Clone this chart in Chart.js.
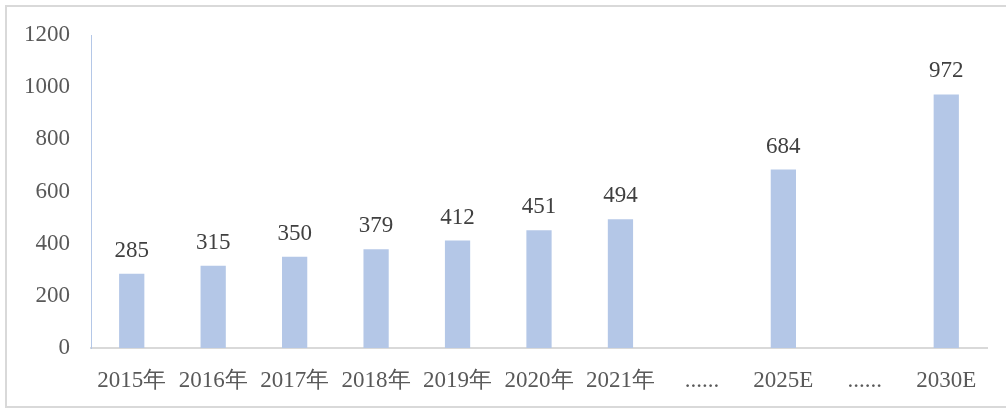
<!DOCTYPE html>
<html>
<head>
<meta charset="utf-8">
<script src="https://cdn.jsdelivr.net/npm/chart.js@4"></script>
<style>
    body { margin: 0; background: #fff; }
    #wrap { width: 1006px; height: 412px; position: relative; }
</style>
</head>
<body>
<div id="wrap"><canvas id="marketChart"></canvas></div>
<script>
// categories and values
const years = ['2015年', '2016年', '2017年', '2018年', '2019年', '2020年', '2021年', '......', '2025E', '......', '2030E'];
const sizes = [285, 315, 350, 379, 412, 451, 494, null, 684, null, 972];
const yTicks = [0, 200, 400, 600, 800, 1000, 1200];

const serif = "'Liberation Serif', 'Times New Roman', serif";

// frame around the whole picture
const framePlugin = {
    id: 'frame',
    beforeDraw: (chart) => {
        const ctx = chart.ctx;
        ctx.save();
        ctx.fillStyle = '#fff';
        ctx.fillRect(0, 0, chart.width, chart.height);
        ctx.strokeStyle = '#d9d9d9';
        ctx.lineWidth = 2;
        ctx.strokeRect(6, 6, chart.width + 10, chart.height - 11);
        ctx.restore();
    },
};

// value labels above the bars
const barLabels = {
    id: 'barLabels',
    afterDatasetsDraw: (chart) => {
        const ctx = chart.ctx;
        const meta = chart.getDatasetMeta(0);
        ctx.save();
        ctx.font = '23px ' + serif;
        ctx.fillStyle = '#404040';
        ctx.textAlign = 'center';
        ctx.textBaseline = 'alphabetic';
        meta.data.forEach((bar, i) => {
            const v = sizes[i];
            if (v === null) return;
            ctx.fillText(String(v), bar.x, bar.y - 17);
        });
        ctx.restore();
    },
};

new Chart(document.getElementById('marketChart'), {
    type: 'bar',
    data: {
        labels: years,
        datasets: [{
            data: sizes,
            backgroundColor: '#b4c7e7',
            barPercentage: 0.31,
            categoryPercentage: 1,
        }],
    },
    options: {
        responsive: true,
        maintainAspectRatio: false,
        animation: false,
        layout: {
            padding: { left: 0, right: 19, top: 35, bottom: 0 },
        },
        plugins: {
            legend: { display: false },
            tooltip: { enabled: false },
        },
        scales: {
            x: {
                grid: { display: false, drawTicks: false },
                border: { color: '#d9d9d9', width: 2 },
                ticks: {
                    font: { family: serif, size: 23 },
                    color: '#595959',
                    padding: 19,
                    maxRotation: 0,
                    autoSkip: false,
                },
                afterFit: (scale) => { scale.height = 64; },
            },
            y: {
                min: 0,
                max: 1200,
                afterBuildTicks: (scale) => {
                    scale.ticks = yTicks.map(v => ({ value: v }));
                },
                grid: { display: false, drawTicks: false },
                border: { color: '#b4c7e7', width: 1 },
                ticks: {
                    font: { family: serif, size: 23 },
                    color: '#595959',
                    padding: 21,
                    callback: (v) => String(v),
                },
                afterFit: (scale) => { scale.width = 91; },
            },
        },
    },
    plugins: [framePlugin, barLabels],
});
</script>
</body>
</html>
